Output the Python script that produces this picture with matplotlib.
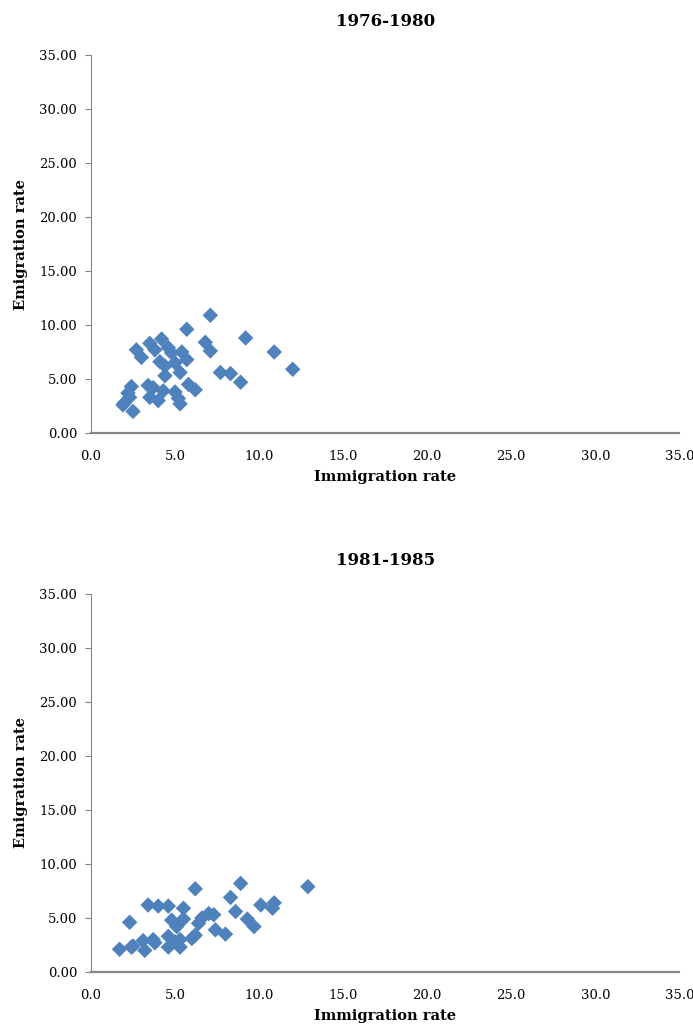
import numpy as np
import matplotlib
matplotlib.use('Agg')
import matplotlib.pyplot as plt

plt.rcParams['font.family'] = ['DejaVu Serif']

# 1976-1980 period: (immigration rate, emigration rate)
imm_7680 = [7.1, 5.7, 9.2, 6.8, 7.1, 10.9, 12.0, 7.7, 8.3, 8.9,
            2.7, 3.0, 3.5, 4.2, 3.8, 4.6, 4.8, 5.4, 5.7, 4.1,
            4.4, 5.0, 5.3, 4.4, 5.8, 6.2,
            2.4, 2.2, 1.9, 2.5, 3.4, 3.7, 3.5, 4.0, 4.3, 5.0,
            5.2, 5.3, 2.0, 2.3]
emi_7680 = [10.9, 9.6, 8.8, 8.4, 7.6, 7.5, 5.9, 5.6, 5.5, 4.7,
            7.7, 7.0, 8.3, 8.7, 7.7, 7.9, 7.4, 7.5, 6.8, 6.6,
            6.2, 6.5, 5.6, 5.3, 4.5, 4.0,
            4.3, 3.7, 2.6, 2.0, 4.4, 4.2, 3.3, 3.0, 3.9, 3.8,
            3.2, 2.7, 2.8, 3.3]

# 1981-1985 period
imm_8185 = [12.9, 8.9, 6.2, 8.3, 3.4, 4.0, 4.6, 5.5, 10.1, 10.9,
            10.8, 8.6, 2.3, 4.8, 5.5, 5.1, 6.6, 7.0, 7.3, 6.4,
            9.3, 9.7, 7.4, 8.0, 6.2, 6.0, 4.6, 3.7, 3.1, 3.8,
            1.7, 2.4, 3.2, 4.6, 5.3, 5.3, 5.0, 2.5]
emi_8185 = [7.9, 8.2, 7.7, 6.9, 6.2, 6.1, 6.1, 5.9, 6.2, 6.4,
            5.9, 5.6, 4.6, 4.8, 4.9, 4.2, 5.0, 5.4, 5.3, 4.5,
            4.9, 4.2, 3.9, 3.5, 3.4, 3.1, 3.3, 3.0, 2.9, 2.7,
            2.1, 2.3, 2.0, 2.3, 2.3, 3.0, 2.8, 2.4]

periods = ['1976-1980', '1981-1985']
series = [(imm_7680, emi_7680), (imm_8185, emi_8185)]

x_ticks = np.arange(0, 36, 5)
y_ticks = np.arange(0, 36, 5)

fig = plt.figure(figsize=(6.93, 10.27), dpi=100)
axes_pos = [[0.1313, 0.5784, 0.849, 0.368],
            [0.1313, 0.0536, 0.849, 0.368]]

for pos, title, (xs, ys) in zip(axes_pos, periods, series):
    ax = fig.add_axes(pos)
    ax.scatter(xs, ys, marker='D', s=62, color='#4F81BD',
               edgecolors='none', zorder=3, clip_on=False)
    ax.set_xlim(0, 35)
    ax.set_ylim(0, 35)
    ax.set_xticks(x_ticks)
    ax.set_yticks(y_ticks)
    ax.set_xticklabels([f'{v:.1f}' for v in x_ticks])
    ax.set_yticklabels([f'{v:.2f}' for v in y_ticks])
    for side in ['top', 'right']:
        ax.spines[side].set_visible(False)
    ax.spines['bottom'].set_color('#868686')
    ax.spines['bottom'].set_linewidth(1.6)
    ax.spines['left'].set_color('#868686')
    ax.spines['left'].set_linewidth(0.8)
    ax.tick_params(axis='x', length=0, labelsize=9.5, pad=12)
    ax.tick_params(axis='y', length=4, color='#868686', labelsize=9.5, pad=6)
    ax.set_xlabel('Immigration rate', fontsize=10.5, fontweight='bold', labelpad=5)
    ax.set_ylabel('Emigration rate', fontsize=10.5, fontweight='bold', labelpad=8)
    ax.set_title(title, fontsize=12, fontweight='bold', pad=21)

plt.savefig('out.png', dpi=100)
